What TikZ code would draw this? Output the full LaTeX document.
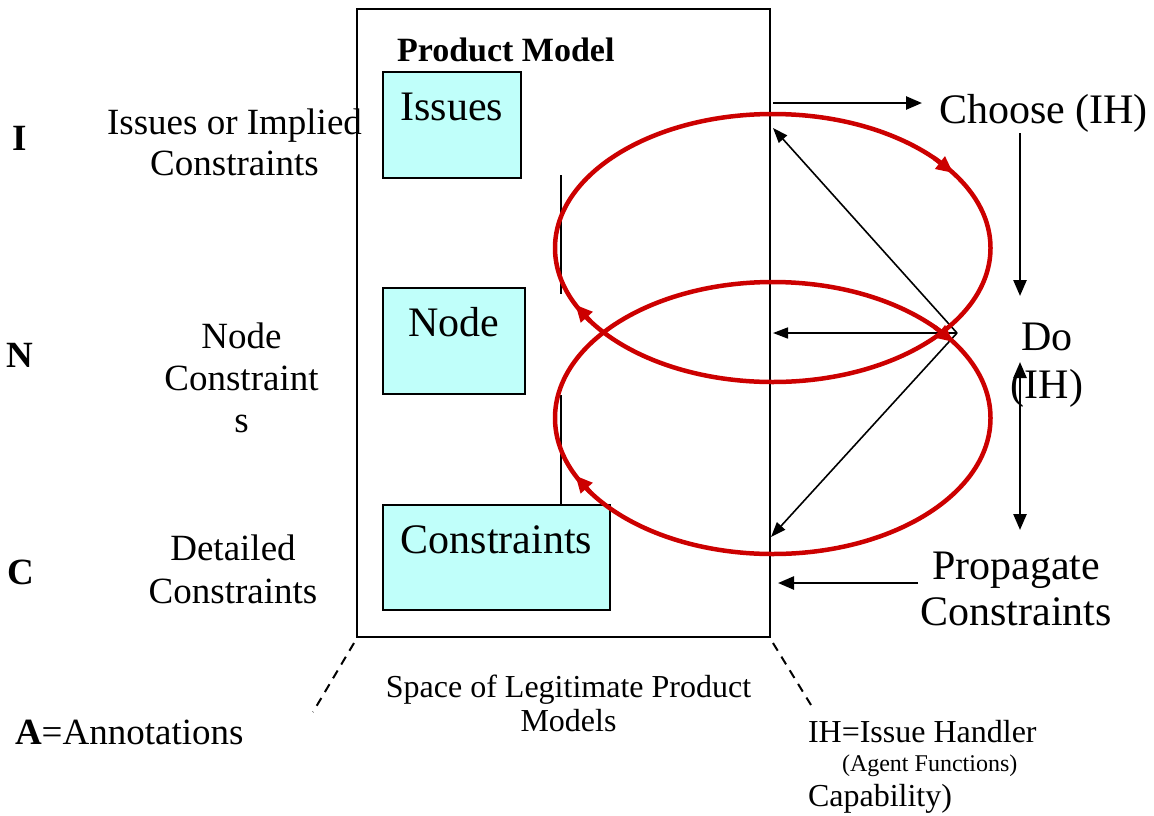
\documentclass[tikz,border=0pt]{standalone}
\usepackage{fontspec}
\setmainfont{Liberation Serif}
\usetikzlibrary{arrows.meta,calc}
\definecolor{loopred}{RGB}{204,0,0}
\definecolor{boxcyan}{RGB}{192,255,250}
\newcommand{\setfs}[2]{\fontsize{#1}{#2}\selectfont}
\tikzset{
  modelframe/.style={draw,line width=2.5pt,inner sep=0pt},
  compbox/.style={draw,fill=boxcyan,line width=2.5pt,inner sep=0pt},
  boxtext/.style={font=\setfs{42}{48},anchor=base},
  sidetext/.style={font=\setfs{37}{41},align=center,anchor=base},
  levelletter/.style={font=\setfs{37}{41}\bfseries,anchor=base},
  flowtext/.style={font=\setfs{42}{46},align=center,anchor=base},
  flow/.style={line width=2.5pt,-{Triangle[length=16pt,width=13pt]}},
  thinflow/.style={line width=1.6pt,-{Triangle[length=15pt,width=11pt]}},
  loop/.style={draw=loopred,line width=4.5pt},
  looptip/.style={loopred,line width=4.5pt,-{Triangle[length=17pt,width=15pt]}},
  tick/.style={line width=2pt},
  guide/.style={line width=2pt,dash pattern=on 9pt off 7pt},
}
\begin{document}
\begin{tikzpicture}[x=1pt,y=-1pt,every node/.style={inner sep=0pt,outer sep=0pt}]
\useasboundingbox (0,0) rectangle (1154,815);

% level letters and their descriptions (multi-line nodes sit on their last baseline)
\node[levelletter] (lI) at (20,150) {I};
\node[levelletter] (lN) at (20,367) {N};
\node[levelletter] (lC) at (21,584) {C};
\node[sidetext] (tI) at (234.5,175) {Issues or Implied\\Constraints};
\node[sidetext,font=\setfs{37}{42}] (tN) at (241.5,432) {Node\\Constraint\\s};
\node[sidetext,font=\setfs{37}{43}] (tC) at (233,603) {Detailed\\Constraints};

% product model frame and its components
\node[modelframe,minimum width=413pt,minimum height=628pt] (pm) at (563.5,323) {};
\node[font=\setfs{34}{38}\bfseries,anchor=base west] (pmtitle) at (397,61) {Product Model};
\node[compbox,minimum width=138pt,minimum height=106pt] (issues) at (452,125) {};
\node[boxtext] (issueslbl) at ($(issues.north)+(0,48)$) {Issues};
\node[compbox,minimum width=142pt,minimum height=106pt] (nodebox) at (454,341) {};
\node[boxtext] (nodelbl) at ($(nodebox.north)+(0,48)$) {Node};
\node[compbox,minimum width=227pt,minimum height=105pt] (consbox) at (496.5,557.5) {};
\node[boxtext] (conslbl) at ($(consbox.north)+(0,48)$) {Constraints};

% short vertical markers inside the frame
\coordinate (tickA) at (561,175);
\coordinate (tickAend) at (561,294);
\coordinate (tickB) at (561,395);
\draw[tick] (tickA) -- (tickAend);
\draw[tick] (tickB) -- (tickB |- consbox.north);

% issue handler cycle labels
\node[font=\setfs{42}{46},anchor=base west] (choose) at (939,123) {Choose (IH)};
\node[flowtext,font=\setfs{42}{48}] (do) at (1047,398) {Do\\(IH)};
\node[flowtext] (prop) at (1016,625) {Propagate\\Constraints};

% bottom captions
\node[font=\setfs{32}{34},align=center,anchor=base] (space) at (568.5,731) {Space of Legitimate Product\\Models};
\node[font=\setfs{37}{41},anchor=base west] (annot) at (15,744) {\textbf{A}=Annotations};
\node[font=\setfs{32}{36},anchor=base west] (ih) at (808,742) {IH=Issue Handler};
\node[font=\setfs{24}{28},anchor=base west] (agent) at (842,771) {(Agent Functions)};
\node[font=\setfs{32}{36},anchor=base west] (capab) at (808,806) {Capability)};

% arrow end points
\coordinate (hub) at (957,333);
\coordinate (edgeI) at (773,128);
\coordinate (edgeN) at (773,333);
\coordinate (edgeC) at (771,537);
\coordinate (chooseTail) at (773,103);
\coordinate (chooseTip) at (922,103);
\coordinate (chooseDown) at (1020,133);
\coordinate (doTop) at (1020,296);
\coordinate (cycTop) at (1020,362);
\coordinate (cycBot) at (1020,530);
\coordinate (propTail) at (918,583);
\coordinate (propTip) at (778,583);
\coordinate (dashL) at (313,712);
\coordinate (dashR) at (811,705);

\draw[flow] (chooseTail) -- (chooseTip);
\draw[flow] (chooseDown) -- (doTop);
\draw[flow,{Triangle[length=16pt,width=13pt]}-{Triangle[length=16pt,width=13pt]}] (cycTop) -- (cycBot);
\draw[flow] (propTail) -- (propTip);
\draw[thinflow] (hub) -- (edgeI);
\draw[thinflow] (hub) -- (edgeN);
\draw[thinflow] (hub) -- (edgeC);

% dashed guides below the frame
\draw[guide] ([shift={(-3,6)}]pm.south west) -- (dashL);
\draw[guide] ([shift={(3,6)}]pm.south east) -- (dashR);

% the two clockwise loops
\coordinate (loopU) at (772.75,248);
\coordinate (loopL) at (772.75,418);
\draw[loop] (loopU) ellipse [x radius=217.75pt,y radius=134pt];
\draw[loop] (loopL) ellipse [x radius=217.75pt,y radius=136pt];
\foreach \c/\ry in {248/134,418/136}{
  \foreach \t in {34,205}{
    \draw[looptip] ({772.75+217.75*cos(\t+8)},{\c-\ry*sin(\t+8)}) -- ({772.75+217.75*cos(\t)},{\c-\ry*sin(\t)});
  }
}
\end{tikzpicture}
\end{document}
